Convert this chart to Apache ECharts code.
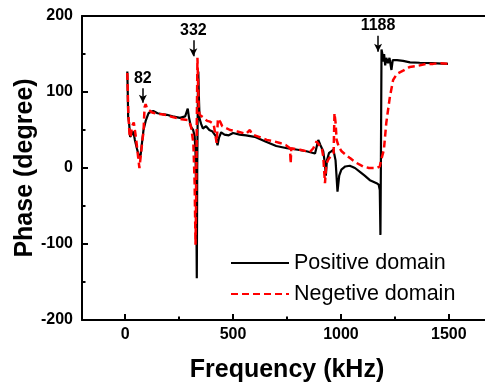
<!DOCTYPE html>
<html>
<head>
<meta charset="utf-8">
<script src="https://cdn.jsdelivr.net/npm/echarts@6/dist/echarts.min.js"></script>
<style>html,body{margin:0;padding:0;background:#fff;}#c{width:485px;height:384px;}</style>
</head>
<body>
<div id="c"></div>
<script>
// Positive domain (black solid)
const posFreq = [10,12,14,18,23,30,38,45,55,66,72,78,85,95,108,120,130,150,170,193,220,254,278,290,296,305,315,322,326,330,332,334,337,339,342,345,352,360,375,390,405,420,428,435,445,460,480,500,530,560,600,650,700,750,800,840,880,895,905,912,918,925,930,935,945,955,965,975,984,992,1002,1020,1041,1065,1088,1110,1134,1150,1165,1175,1180,1183,1185,1188,1192,1196,1200,1205,1210,1218,1225,1234,1240,1260,1288,1320,1365,1420,1496];
const posPhase = [127,100,67,60,41,44,48,37,25,13,18,33,50,62,72,74,75,72,71,70,68,66,68,78,66,54,50,42,20,-60,-145,0,100,127,90,65,58,52,55,50,48,42,30,40,47,44,43,46,44,43,41,35,29,26,24,22,19,37,30,32,22,7,-10,10,20,22,24,10,-31,-10,-2,2,3,0,-5,-10,-16,-18,-20,-22,-29,-88,0,156,150,140,150,135,145,138,145,129,142,142,141,139,138.5,138,137];
// Negative domain (red dashed)
const negFreq = [10,12,15,20,25,32,40,50,60,66,72,80,85,90,95,102,108,125,139,160,185,220,262,293,305,316,322,326,329,332,335,338,341,345,360,380,393,410,424,430,440,450,486,520,560,578,590,620,656,690,717,745,764,767,770,810,856,872,887,895,905,912,918,926,932,941,956,966,970,975,980,990,1003,1020,1042,1070,1103,1130,1165,1180,1185,1199,1210,1220,1227,1242,1260,1288,1319,1350,1396,1427,1450,1496];
const negPhase = [125,100,70,45,40,55,60,40,15,0,15,37,47,80,84,78,76,73,72,71,70,67,64,63,55,33,-20,-101,-40,60,145,110,80,70,67,62,61,58,33,65,61,55,50,48,45,50,44,41,37,35,33,30,26,6,26,24,21,26,35,33,28,25,15,-20,5,11,17,20,72,60,37,28,22,18,13,7,2,0,0,2,9,24,59,80,94,116,124,128,133,134,137,137,138,137];
// Axis tick values
const xMajorTicks = [0,500,1000,1500];
const xMinorTicks = [250,750,1250];
// Annotations: label, x, arrow start y, arrow end y
const annLabels = ['82','332','1188'];
const annX = [82,316,1172];
const annYStart = [105,168,174];
const annYEnd = [86,147,153];

const FONT = 'Liberation Sans, Arial, sans-serif';
const zip = (a,b) => a.map((v,i)=>[v,b[i]]);

const chart = echarts.init(document.getElementById('c'), null, {renderer:'canvas'});
const markData = annLabels.map((l,i)=>[
  {name:l, coord:[annX[i], annYStart[i]]},
  {coord:[annX[i], annYEnd[i]]}
]);
const option = {
  animation:false,
  backgroundColor:'#fff',
  grid:{left:82, right:-7, top:16, bottom:64, containLabel:false, outerBoundsMode:'none'},
  legend:{
    orient:'vertical', left:230, top:252, padding:0,
    itemWidth:58, itemHeight:14, itemGap:9,
    itemStyle:{opacity:0},
    textStyle:{fontFamily:FONT, fontSize:21.5, color:'#000', lineHeight:22},
    data:['Positive domain','Negetive domain']
  },
  xAxis:[{
    type:'value', min:-200, max:1700, position:'bottom',
    name:'Frequency (kHz)', nameLocation:'middle', nameGap:38, nameMoveOverlap:false,
    nameTextStyle:{fontFamily:FONT, fontSize:25, fontWeight:'bold', color:'#000'},
    axisLine:{show:true, onZero:false, lineStyle:{color:'#000', width:2}},
    axisTick:{show:true, inside:true, length:6, customValues:xMajorTicks, lineStyle:{color:'#000', width:2}},
    axisLabel:{customValues:xMajorTicks, formatter:(v)=>String(v), fontFamily:FONT, fontSize:16, fontWeight:'bold', color:'#000', margin:7},
    splitLine:{show:false}
  },{
    type:'value', min:-200, max:1700, position:'bottom',
    axisLine:{show:false, onZero:false},
    axisTick:{show:true, inside:true, length:3.5, customValues:xMinorTicks, lineStyle:{color:'#000', width:2}},
    axisLabel:{show:false}, splitLine:{show:false}
  },{
    type:'value', min:-200, max:1700, position:'top',
    axisLine:{show:true, onZero:false, lineStyle:{color:'#000', width:2}},
    axisTick:{show:false}, axisLabel:{show:false}, splitLine:{show:false}
  }],
  yAxis:{
    type:'value', min:-200, max:200, interval:100,
    name:'Phase (degree)', nameLocation:'middle', nameGap:44, nameMoveOverlap:false,
    nameTextStyle:{fontFamily:FONT, fontSize:25, fontWeight:'bold', color:'#000'},
    axisLine:{show:true, onZero:false, lineStyle:{color:'#000', width:2}},
    axisTick:{show:true, inside:true, length:6, lineStyle:{color:'#000', width:2}},
    minorTick:{show:true, splitNumber:2, length:3.5, lineStyle:{color:'#000', width:2}},
    axisLabel:{fontFamily:FONT, fontSize:16, fontWeight:'bold', color:'#000', margin:9},
    splitLine:{show:false}
  },
  series:[{
    name:'Positive domain', type:'line', symbol:'none', xAxisIndex:0,
    data:zip(posFreq,posPhase),
    lineStyle:{color:'#000', width:2.2}, itemStyle:{color:'#000'},
    markLine:{
      silent:true, symbol:['none','arrow'], symbolSize:[6,8],
      lineStyle:{color:'#000', width:1.5, type:'solid'},
      label:{show:true, position:'start', formatter:'{b}', fontFamily:FONT, fontSize:16, fontWeight:'bold', color:'#000', distance:2},
      emphasis:{disabled:true},
      data:markData
    }
  },{
    name:'Negetive domain', type:'line', symbol:'none', xAxisIndex:0,
    data:zip(negFreq,negPhase),
    lineStyle:{color:'#ff0000', width:2.5, type:[7,4]}, itemStyle:{color:'#ff0000'}
  }]
};
chart.setOption(option);
</script>
</body>
</html>
